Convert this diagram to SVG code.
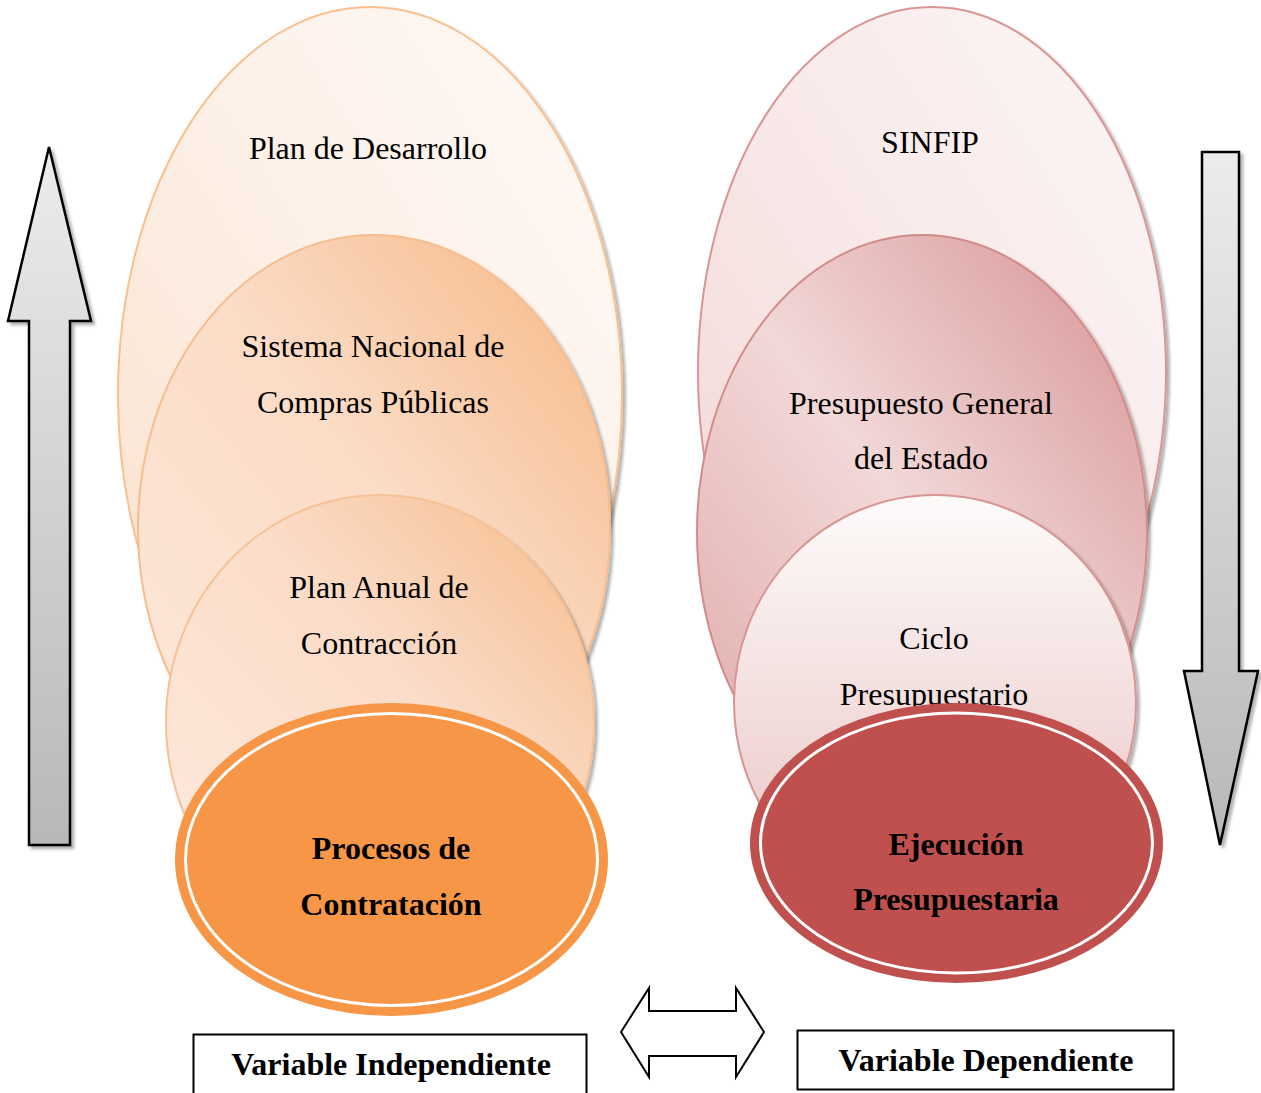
<svg xmlns="http://www.w3.org/2000/svg" width="1261" height="1093" viewBox="0 0 1261 1093">
<defs>
<style>
.t{font-family:"Liberation Serif","Times New Roman",serif;font-size:32px;fill:#000;text-anchor:middle}
.b{font-weight:bold}
.arr{stroke:#000;stroke-width:2.5;stroke-linejoin:miter}
</style>
<linearGradient id="gUp" x1="0" y1="0" x2="0" y2="1"><stop offset="0" stop-color="#ececec"/><stop offset="1" stop-color="#b8b8b8"/></linearGradient>
<linearGradient id="gDn" x1="0" y1="0" x2="0" y2="1"><stop offset="0" stop-color="#ececec"/><stop offset="1" stop-color="#b8b8b8"/></linearGradient>
<linearGradient id="gL1" x1="0" y1="1" x2="1" y2="0"><stop offset="0" stop-color="#fbe0cc"/><stop offset="0.6" stop-color="#fdf2ea"/><stop offset="1" stop-color="#fef9f6"/></linearGradient>
<linearGradient id="gL2" x1="0.1" y1="0.9" x2="0.9" y2="0.1"><stop offset="0" stop-color="#fce7d8"/><stop offset="0.55" stop-color="#fbdcc6"/><stop offset="1" stop-color="#f7bf92"/></linearGradient>
<linearGradient id="gL3" x1="0.1" y1="0.9" x2="0.9" y2="0.1"><stop offset="0" stop-color="#fde9dc"/><stop offset="0.6" stop-color="#fbdcc8"/><stop offset="1" stop-color="#f7c398"/></linearGradient>
<linearGradient id="gR1" x1="0" y1="1" x2="1" y2="0"><stop offset="0" stop-color="#f2d6d5"/><stop offset="0.6" stop-color="#f9eceb"/><stop offset="1" stop-color="#fcf6f6"/></linearGradient>
<linearGradient id="gR2" x1="0.1" y1="0.9" x2="0.9" y2="0.1"><stop offset="0" stop-color="#e2b1b0"/><stop offset="0.5" stop-color="#f2d8d8"/><stop offset="1" stop-color="#dca0a0"/></linearGradient>
<linearGradient id="gR3" x1="0" y1="0" x2="0" y2="1"><stop offset="0" stop-color="#fefbfb"/><stop offset="1" stop-color="#e8c2c1"/></linearGradient>
<filter id="sh" x="-10%" y="-10%" width="120%" height="120%"><feDropShadow dx="3" dy="3" stdDeviation="1.5" flood-color="#000" flood-opacity="0.3"/></filter>
</defs>

<g id="arrow-up" filter="url(#sh)">
<path class="arr" fill="url(#gUp)" d="M49,147 L91,321 L70,321 L70,845 L29,845 L29,321 L8,321 Z"/>
</g>
<g id="arrow-down" filter="url(#sh)">
<path class="arr" fill="url(#gDn)" d="M1202,152 L1239,152 L1239,671 L1258,671 L1220,845 L1184,671 L1202,671 Z"/>
</g>

<g id="plan-desarrollo">
<ellipse cx="370" cy="395" rx="252" ry="388" fill="url(#gL1)" stroke="#f9c08e" stroke-width="2" filter="url(#sh)"/>
<text class="t" x="368" y="159">Plan de Desarrollo</text>
</g>
<g id="sistema-nacional">
<ellipse cx="374" cy="528" rx="236" ry="293" fill="url(#gL2)" stroke="#f7bd8e" stroke-width="2" filter="url(#sh)"/>
<text class="t" x="373" y="357">Sistema Nacional de</text>
<text class="t" x="373" y="413">Compras Públicas</text>
</g>
<g id="plan-anual">
<ellipse cx="380" cy="722" rx="214" ry="227" fill="url(#gL3)" stroke="#f7c196" stroke-width="2" filter="url(#sh)"/>
<text class="t" x="379" y="598">Plan Anual de</text>
<text class="t" x="379" y="654">Contracción</text>
</g>
<g id="procesos">
<ellipse cx="391.5" cy="859.5" rx="216.5" ry="156.5" fill="#f79646"/>
<ellipse cx="391.5" cy="859.5" rx="206" ry="146" fill="none" stroke="#fff" stroke-width="3"/>
<text class="t b" x="391" y="859">Procesos de</text>
<text class="t b" x="391" y="915">Contratación</text>
</g>

<g id="sinfip">
<ellipse cx="932" cy="372" rx="234" ry="365" fill="url(#gR1)" stroke="#d99594" stroke-width="2" filter="url(#sh)"/>
<text class="t" x="930" y="153">SINFIP</text>
</g>
<g id="presupuesto-general">
<ellipse cx="922" cy="532" rx="225" ry="297" fill="url(#gR2)" stroke="#d38b8a" stroke-width="2" filter="url(#sh)"/>
<text class="t" x="921" y="414">Presupuesto General</text>
<text class="t" x="921" y="469">del Estado</text>
</g>
<g id="ciclo">
<ellipse cx="935" cy="702" rx="201" ry="207" fill="url(#gR3)" stroke="#d99594" stroke-width="2" filter="url(#sh)"/>
<text class="t" x="934" y="649">Ciclo</text>
<text class="t" x="934" y="705">Presupuestario</text>
</g>
<g id="ejecucion">
<ellipse cx="956.5" cy="843" rx="206.5" ry="140" fill="#c0504d"/>
<ellipse cx="956.5" cy="843" rx="196" ry="130" fill="none" stroke="#fff" stroke-width="3"/>
<text class="t b" x="956" y="855">Ejecución</text>
<text class="t b" x="956" y="910">Presupuestaria</text>
</g>

<g id="connectors">
<path d="M621,1032 L649,988 L649,1011 L736,1011 L736,988 L764,1032 L736,1077 L736,1056 L649,1056 L649,1077 Z" fill="#fff" stroke="#000" stroke-width="2"/>
</g>

<g id="variable-independiente">
<rect x="193.5" y="1034.5" width="393" height="62" fill="#fff" stroke="#000" stroke-width="2"/>
<text class="t b" x="391" y="1075">Variable Independiente</text>
</g>
<g id="variable-dependiente">
<rect x="797.5" y="1030.5" width="376" height="59" fill="#fff" stroke="#000" stroke-width="2"/>
<text class="t b" x="986" y="1071">Variable Dependiente</text>
</g>
</svg>
